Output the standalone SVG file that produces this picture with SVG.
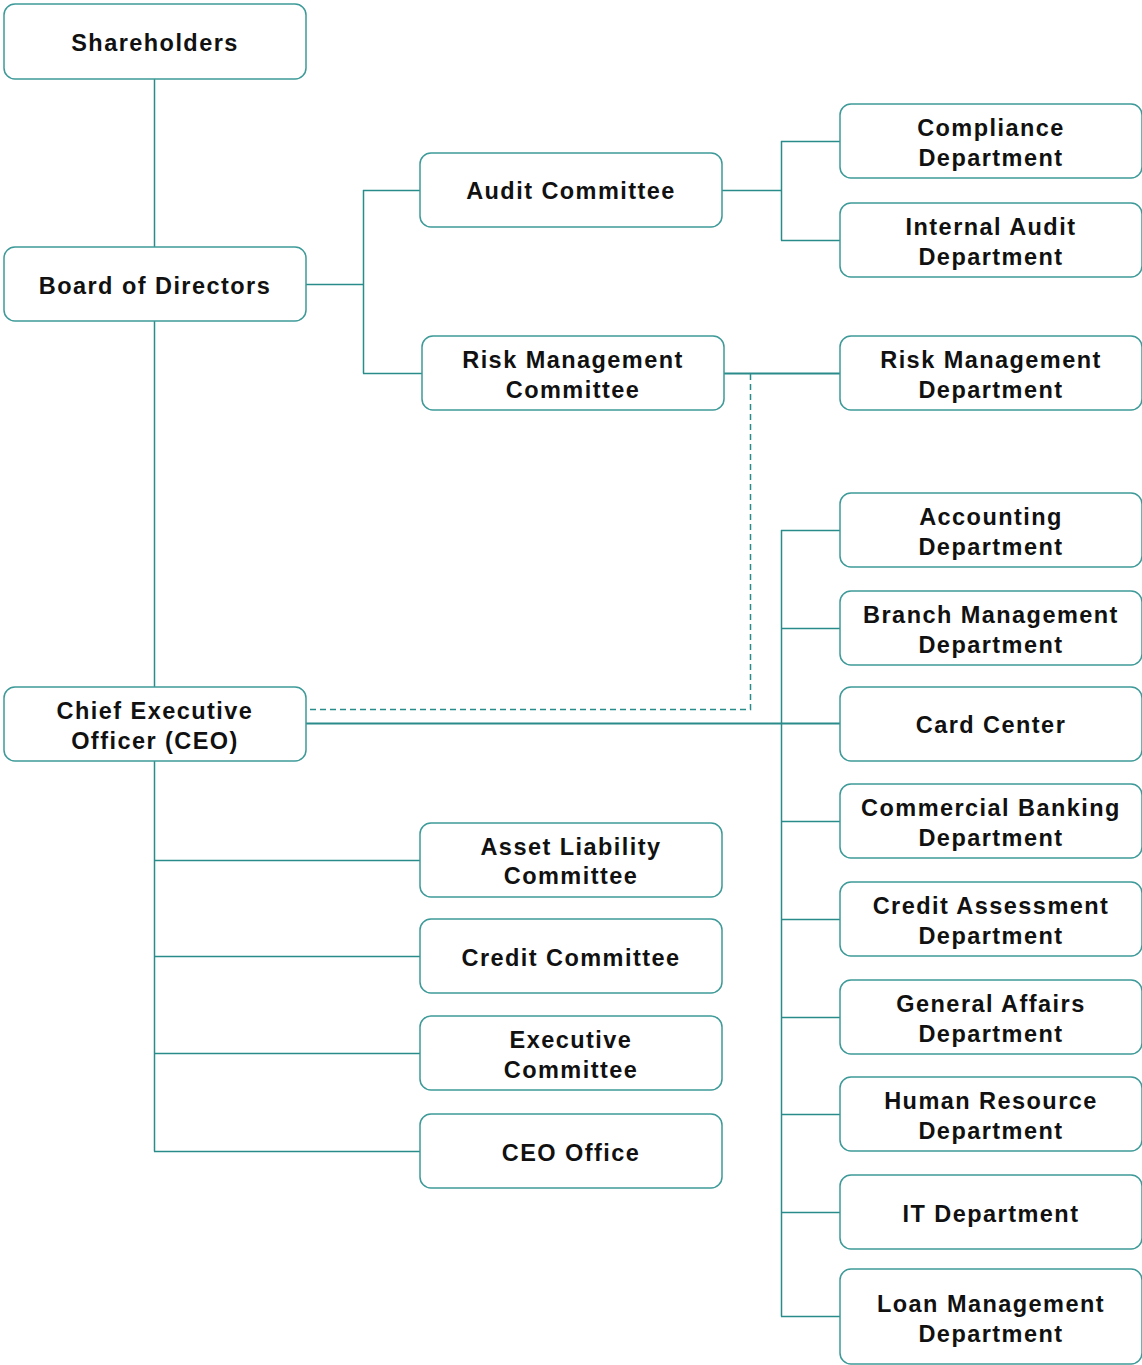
<svg xmlns="http://www.w3.org/2000/svg" width="1142" height="1365" viewBox="0 0 1142 1365">
<style>
.box{fill:#fff;stroke:#3d9a98;stroke-width:1.5}
.t{font-family:"Liberation Sans",Arial,sans-serif;font-weight:bold;font-size:23.5px;letter-spacing:1.45px;fill:#111;text-anchor:middle;dominant-baseline:central}
.c{fill:none;stroke:#2a8c8a;stroke-width:1.5}
.c2{fill:none;stroke:#2a8c8a;stroke-width:2.2}
.d{fill:none;stroke:#2a8c8a;stroke-width:1.5;stroke-dasharray:6,4}
</style>
<rect width="1142" height="1365" fill="#fff"/>
<g id="connectors">
<path class="c" d="M154.5 79V247"/>
<path class="c" d="M154.5 321V687"/>
<path class="c" d="M306 284.5H363.5M363.5 190V373.5M363 190.5H420M363 373.5H422"/>
<path class="c" d="M722 190.5H781.5M781.5 141V240.5M781 141.5H840M781 240.5H840"/>
<path class="c2" d="M724 373.5H840"/>
<path class="d" d="M750.5 374V709.5H306"/>
<path class="c2" d="M306 723.5H840"/>
<path class="c" d="M781.5 530V1316.5M781 530.5H840M781 628.5H840M781 821.5H840M781 919.5H840M781 1017.5H840M781 1114.5H840M781 1212.5H840M781 1316.5H840"/>
<path class="c" d="M154.5 761V1151.5M154 860.5H420M154 956.5H420M154 1053.5H420M154 1151.5H420"/>
</g>
<g id="shareholders"><rect class="box" x="4" y="4" width="302" height="75" rx="11"/><text class="t" x="155" y="43">Shareholders</text></g>
<g id="board"><rect class="box" x="4" y="247" width="302" height="74" rx="11"/><text class="t" x="155" y="286">Board of Directors</text></g>
<g id="ceo"><rect class="box" x="4" y="687" width="302" height="74" rx="11"/><text class="t" x="155" y="711">Chief Executive</text><text class="t" x="155" y="741">Officer (CEO)</text></g>
<g id="audit-committee"><rect class="box" x="420" y="153" width="302" height="74" rx="11"/><text class="t" x="571" y="191">Audit Committee</text></g>
<g id="risk-committee"><rect class="box" x="422" y="336" width="302" height="74" rx="11"/><text class="t" x="573" y="360">Risk Management</text><text class="t" x="573" y="390">Committee</text></g>
<g id="compliance"><rect class="box" x="840" y="104" width="302" height="74" rx="11"/><text class="t" x="991" y="128">Compliance</text><text class="t" x="991" y="158">Department</text></g>
<g id="internal-audit"><rect class="box" x="840" y="203" width="302" height="74" rx="11"/><text class="t" x="991" y="227">Internal Audit</text><text class="t" x="991" y="257">Department</text></g>
<g id="risk-dept"><rect class="box" x="840" y="336" width="302" height="74" rx="11"/><text class="t" x="991" y="360">Risk Management</text><text class="t" x="991" y="390">Department</text></g>
<g id="accounting"><rect class="box" x="840" y="493" width="302" height="74" rx="11"/><text class="t" x="991" y="517">Accounting</text><text class="t" x="991" y="547">Department</text></g>
<g id="branch"><rect class="box" x="840" y="591" width="302" height="74" rx="11"/><text class="t" x="991" y="615">Branch Management</text><text class="t" x="991" y="645">Department</text></g>
<g id="card"><rect class="box" x="840" y="687" width="302" height="74" rx="11"/><text class="t" x="991" y="725">Card Center</text></g>
<g id="commercial"><rect class="box" x="840" y="784" width="302" height="74" rx="11"/><text class="t" x="991" y="808">Commercial Banking</text><text class="t" x="991" y="838">Department</text></g>
<g id="credit-assessment"><rect class="box" x="840" y="882" width="302" height="74" rx="11"/><text class="t" x="991" y="906">Credit Assessment</text><text class="t" x="991" y="936">Department</text></g>
<g id="general-affairs"><rect class="box" x="840" y="980" width="302" height="74" rx="11"/><text class="t" x="991" y="1004">General Affairs</text><text class="t" x="991" y="1034">Department</text></g>
<g id="hr"><rect class="box" x="840" y="1077" width="302" height="74" rx="11"/><text class="t" x="991" y="1101">Human Resource</text><text class="t" x="991" y="1131">Department</text></g>
<g id="it"><rect class="box" x="840" y="1175" width="302" height="74" rx="11"/><text class="t" x="991" y="1214">IT Department</text></g>
<g id="loan"><rect class="box" x="840" y="1269" width="302" height="95" rx="11"/><text class="t" x="991" y="1304">Loan Management</text><text class="t" x="991" y="1334">Department</text></g>
<g id="alco"><rect class="box" x="420" y="823" width="302" height="74" rx="11"/><text class="t" x="571" y="847">Asset Liability</text><text class="t" x="571" y="876">Committee</text></g>
<g id="credit-committee"><rect class="box" x="420" y="919" width="302" height="74" rx="11"/><text class="t" x="571" y="958">Credit Committee</text></g>
<g id="executive-committee"><rect class="box" x="420" y="1016" width="302" height="74" rx="11"/><text class="t" x="571" y="1040">Executive</text><text class="t" x="571" y="1070">Committee</text></g>
<g id="ceo-office"><rect class="box" x="420" y="1114" width="302" height="74" rx="11"/><text class="t" x="571" y="1153">CEO Office</text></g>
</svg>
